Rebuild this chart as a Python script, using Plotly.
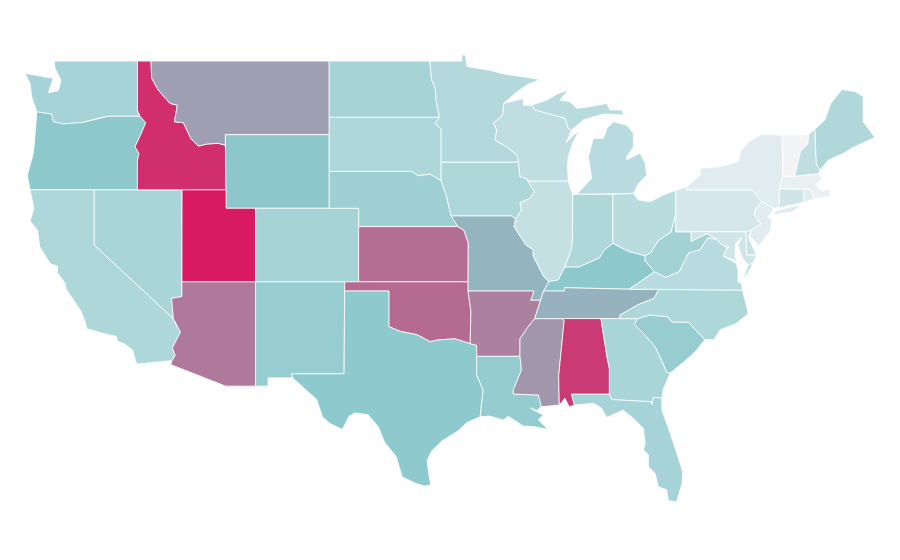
import plotly.graph_objects as go
from plotly.colors import sample_colorscale

# Plotly's built-in state map needs a download that is not available here,
# so the state outlines are estimated (lon, lat) boundaries on plain axes.
states = ["WA","OR","CA","NV","ID","MT","WY","UT","AZ","CO","NM","ND","SD","NE","KS","OK","TX","MN","IA","MO","AR","LA","WI","IL","MS","MI","IN","KY","TN","AL","OH","GA","FL","SC","NC","VA","WV","PA","NY","VT","NH","ME","MA","CT","RI","NJ","DE","MD","DC"]
values = [33.5,45,30,32,94,58,45.5,100,70,34,40,34,30,37,74,75,44,28,30,51,68,41,22,20,61,26,30,45,52,90,25,32,33.5,40,30,26,35,13,8,0,22,29,4,15,8,8,18,15,10]
color_stops = [[0,"#f2f4f6"],[0.45,"#8cc8cc"],[1,"#d81b60"]]

outlines = {
"WA":[(-124.7,48.33),(-123.12,48.09),(-122.78,48.06),(-123.12,47.28),(-122.44,47.39),(-122.26,47.97),(-122.66,48.6),(-122.73,49),(-117.07,49),(-117.07,46.34),(-116.9,46),(-119.05,46),(-119.72,45.89),(-120.74,45.67),(-122.1,45.58),(-122.78,45.7),(-122.89,46.12),(-123.9,46.24),(-124.25,47.06),(-124.36,47.79)],
"OR":[(-123.9,46.24),(-122.89,46.12),(-122.78,45.7),(-122.1,45.58),(-120.74,45.67),(-119.72,45.89),(-119.05,46),(-116.9,46),(-116.5,45.65),(-116.85,45),(-117.23,44.34),(-116.96,43.98),(-117.07,43.6),(-117.07,42),(-124.36,42),(-124.54,42.8),(-124.14,43.98),(-124.05,44.7),(-123.95,45.5)],
"CA":[(-124.36,42),(-120,42),(-120,39),(-114.63,35),(-114.57,34.85),(-114.15,34.27),(-114.7,33.4),(-114.5,33),(-114.72,32.72),(-117.12,32.53),(-117.25,32.85),(-117.4,33.3),(-118,33.65),(-118.4,33.75),(-118.5,34.03),(-119.2,34.15),(-120.5,34.45),(-120.65,34.9),(-120.9,35.4),(-121.9,36.6),(-122,36.95),(-122.5,37.5),(-122.5,37.85),(-123,38),(-123.7,38.9),(-123.85,39.8),(-124.35,40.3),(-124.1,41)],
"NV":[(-120,42),(-114.04,42),(-114.05,36.2),(-114.75,36.1),(-114.63,35),(-120,39)],
"ID":[(-117.07,49),(-116.15,49),(-116.1,48.06),(-115.65,47.42),(-114.86,46.7),(-114.36,46.6),(-114.56,45.7),(-113.95,45.65),(-113.45,44.8),(-112.93,44.38),(-112.37,44.49),(-111.58,44.53),(-111.1,44.43),(-111.05,42),(-117.07,42),(-117.07,43.6),(-116.96,43.98),(-117.23,44.34),(-116.85,45),(-116.5,45.65),(-116.9,46),(-117.07,46.34)],
"MT":[(-116.15,49),(-104.05,49),(-104.05,45),(-111.1,45),(-111.1,44.43),(-111.58,44.53),(-112.37,44.49),(-112.93,44.38),(-113.45,44.8),(-113.95,45.65),(-114.56,45.7),(-114.36,46.6),(-114.86,46.7),(-115.65,47.42),(-116.1,48.06)],
"WY":[(-111.1,45),(-104.05,45),(-104.05,41),(-111.05,41)],
"UT":[(-114.04,42),(-111.05,42),(-111.05,41),(-109.05,41),(-109.05,37),(-114.05,37)],
"AZ":[(-114.05,37),(-109.05,37),(-109.05,31.33),(-111.07,31.33),(-114.81,32.5),(-114.72,32.72),(-114.5,33),(-114.7,33.4),(-114.15,34.27),(-114.57,34.85),(-114.63,35),(-114.75,36.1),(-114.05,36.2)],
"CO":[(-109.05,41),(-102.05,41),(-102.05,37),(-109.05,37)],
"NM":[(-109.05,37),(-103,37),(-103.04,32),(-106.62,32),(-106.53,31.78),(-108.2,31.78),(-108.2,31.33),(-109.05,31.33)],
"ND":[(-104.05,49),(-97.23,49),(-97.1,48),(-96.85,47.5),(-96.8,46.9),(-96.57,45.94),(-104.05,45.94)],
"SD":[(-104.05,45.94),(-96.57,45.94),(-96.85,45.6),(-96.45,45.3),(-96.45,42.49),(-97.2,42.85),(-98,42.77),(-98.5,43),(-104.05,43)],
"NE":[(-104.05,43),(-98.5,43),(-98,42.77),(-97.2,42.85),(-96.45,42.49),(-96.1,41.7),(-95.9,41),(-95.77,40.6),(-95.31,40),(-102.05,40),(-102.05,41),(-104.05,41)],
"KS":[(-102.05,40),(-95.31,40),(-94.9,39.8),(-94.61,39.11),(-94.62,37),(-102.05,37)],
"OK":[(-103,37),(-94.62,37),(-94.62,36.5),(-94.43,35.4),(-94.48,33.64),(-95.5,33.9),(-96.6,33.85),(-97.2,33.75),(-98.1,34.13),(-99.2,34.3),(-100,34.56),(-100,36.5),(-103,36.5)],
"TX":[(-103,36.5),(-100,36.5),(-100,34.56),(-99.2,34.3),(-98.1,34.13),(-97.2,33.75),(-96.6,33.85),(-95.5,33.9),(-94.48,33.64),(-94.04,33.55),(-94.04,31.93),(-93.6,31.12),(-93.7,30.4),(-93.8,29.67),(-94.7,29.35),(-95.3,28.9),(-96.4,28.35),(-97.1,27.8),(-97.4,27.3),(-97.3,26.6),(-97.15,25.96),(-97.6,25.9),(-98.2,26.05),(-99.1,26.4),(-99.5,27.5),(-100.3,28.3),(-100.7,29.1),(-101.4,29.77),(-102.3,29.88),(-102.7,29.7),(-103.15,28.98),(-104,29.3),(-104.5,29.65),(-104.9,30.6),(-106.53,31.78),(-106.62,32),(-103.04,32)],
"MN":[(-97.23,49),(-95.05,49),(-95.05,49.33),(-94.8,49.33),(-94.7,48.7),(-93.13,48.5),(-92.36,48.33),(-91.77,48.24),(-90.9,48.15),(-89.74,48),(-90.65,47.7),(-91.3,47.33),(-92.2,46.7),(-92.27,46.07),(-92.9,45.62),(-92.68,45.25),(-92.79,44.7),(-92,44.34),(-91.3,43.89),(-91.2,43.5),(-96.45,43.5),(-96.45,45.3),(-96.85,45.6),(-96.57,45.94),(-96.8,46.9),(-96.85,47.5),(-97.1,48)],
"IA":[(-96.45,43.5),(-91.2,43.5),(-91.1,42.71),(-90.65,42.62),(-90.55,42.47),(-90.12,41.9),(-90.4,41.54),(-91.1,41.3),(-91,40.9),(-91.4,40.4),(-91.66,40.58),(-95.77,40.58),(-95.9,41),(-96.1,41.7),(-96.45,42.49)],
"MO":[(-95.77,40.58),(-91.66,40.58),(-91.4,40.4),(-91.5,40),(-90.7,39),(-90.2,38.75),(-90.2,38.4),(-89.5,37.3),(-89.15,37),(-89.5,36.5),(-89.7,36),(-90.37,36),(-90.15,36.5),(-94.62,36.5),(-94.62,37),(-94.61,39.11),(-94.9,39.8),(-95.31,40)],
"AR":[(-94.62,36.5),(-90.15,36.5),(-90.37,36),(-89.7,36),(-90.1,35),(-90.6,34.5),(-91.1,33.9),(-91.1,32.95),(-94.04,32.95),(-94.04,33.55),(-94.48,33.64),(-94.43,35.4)],
"LA":[(-94.04,32.95),(-91.1,32.95),(-91,32.2),(-91.55,31.12),(-91.55,30.9),(-89.85,30.85),(-89.65,30.21),(-89.96,30.0),(-90.4,30.15),(-90.1,30.0),(-89.5,29.76),(-89.85,29.5),(-89.2,28.98),(-90.19,29.13),(-90.87,29.16),(-91.9,29.7),(-92.23,29.49),(-93.13,29.7),(-93.8,29.67),(-93.7,30.4),(-93.6,31.12),(-94.04,31.93)],
"WI":[(-92.2,46.7),(-90.87,46.97),(-90.87,46.6),(-90.3,46.6),(-90.08,46.34),(-88.83,46.07),(-88.03,45.89),(-87.82,45.34),(-87.6,45.25),(-87.97,44.56),(-87.5,44.95),(-87.1,45.2),(-87.52,44.53),(-87.82,43.8),(-87.88,43.26),(-87.82,42.47),(-90.55,42.47),(-90.65,42.62),(-91.1,42.71),(-91.2,43.5),(-91.3,43.89),(-92,44.34),(-92.79,44.7),(-92.68,45.25),(-92.9,45.62),(-92.27,46.07)],
"IL":[(-90.55,42.47),(-87.82,42.47),(-87.52,41.72),(-87.53,39.35),(-87.6,38.8),(-88.05,37.8),(-88.5,37.1),(-89.15,37),(-89.5,37.3),(-90.2,38.4),(-90.2,38.75),(-90.7,39),(-91.5,40),(-91.4,40.4),(-91,40.9),(-91.1,41.3),(-90.4,41.54),(-90.12,41.9)],
"MS":[(-90.1,35),(-88.2,35),(-88.1,34.9),(-88.47,31.9),(-88.43,30.3),(-89.65,30.21),(-89.85,30.85),(-91.55,30.9),(-91.55,31.12),(-91,32.2),(-91.1,32.95),(-91.1,33.9),(-90.6,34.5)],
"MI":[(-87.25,41.76),(-84.8,41.76),(-83.4,41.8),(-83.06,42.35),(-82.5,42.8),(-82.6,43.44),(-82.95,44),(-83.85,43.62),(-83.85,43.8),(-83.4,44.34),(-83.4,45.07),(-83.85,45.52),(-84.76,45.7),(-85.2,45.34),(-85.44,44.8),(-86.12,44.8),(-86.46,43.8),(-86.23,42.62),None,
      (-90.3,46.6),(-89.28,46.88),(-88.5,47.24),(-87.82,47.42),(-88.38,46.88),(-87.7,46.79),(-87.25,46.43),(-86.35,46.52),(-85.2,46.7),(-84.98,46.34),(-84.2,46.34),(-84.03,46.07),(-85.44,46.12),(-86.35,45.89),(-86.8,45.8),(-87.6,45.25),(-87.82,45.34),(-88.03,45.89),(-88.83,46.07),(-90.08,46.34)],
"IN":[(-87.52,41.72),(-87.25,41.76),(-84.8,41.76),(-84.8,39.1),(-85.4,38.7),(-85.7,38.3),(-86.3,38.1),(-87.1,37.8),(-88.05,37.8),(-87.6,38.8),(-87.53,39.35)],
"KY":[(-89.5,36.5),(-89.15,37),(-88.5,37.1),(-88.05,37.8),(-87.1,37.8),(-86.3,38.1),(-85.7,38.3),(-85.4,38.7),(-84.8,39.1),(-84.2,38.85),(-83.7,38.65),(-82.6,38.42),(-82.6,38.15),(-81.97,37.54),(-83.68,36.6),(-88.07,36.68),(-88.07,36.5)],
"TN":[(-90.1,35),(-89.7,36),(-89.5,36.5),(-88.07,36.5),(-88.07,36.68),(-83.68,36.6),(-81.68,36.59),(-82,36.1),(-83.1,35.75),(-84.3,35.2),(-84.32,35)],
"AL":[(-88.2,35),(-85.6,35),(-85.18,32.87),(-85.03,32.3),(-85.03,30.89),(-87.6,30.89),(-87.4,30.3),(-87.75,30.21),(-88.05,30.67),(-88.43,30.3),(-88.47,31.9),(-88.1,34.9)],
"OH":[(-84.8,41.76),(-83.4,41.8),(-83.06,41.45),(-82.27,41.35),(-81.37,41.72),(-80.52,41.98),(-80.52,40.64),(-80.85,39.7),(-81.7,39.25),(-82.2,38.6),(-82.6,38.42),(-83.7,38.65),(-84.2,38.85),(-84.8,39.1)],
"GA":[(-85.6,35),(-83.1,35),(-83.35,34.7),(-82.6,34.1),(-81.9,33.45),(-81.4,32.6),(-81.15,32.1),(-80.9,32.05),(-81.4,31.1),(-81.47,30.67),(-82.05,30.72),(-82.15,30.3),(-82.15,30.48),(-84.87,30.6),(-85.03,30.89),(-85.03,32.3),(-85.18,32.87)],
"FL":[(-87.6,30.89),(-85.03,30.89),(-84.87,30.6),(-82.15,30.48),(-82.15,30.3),(-82.05,30.72),(-81.47,30.67),(-81.47,30.03),(-80.9,28.77),(-80.46,27.68),(-80.05,26.68),(-80.1,26.05),(-80.46,25.05),(-81.03,25.1),(-81.14,25.7),(-81.7,25.86),(-81.93,26.6),(-82.38,26.95),(-82.38,27.6),(-82.72,27.86),(-82.6,28.22),(-82.72,29.04),(-83.4,29.58),(-84.1,30.03),(-85.2,29.63),(-85.55,30.13),(-86.1,30.4),(-87.4,30.3)],
"SC":[(-83.1,35),(-82.3,35.2),(-81.05,35.1),(-80.8,34.82),(-79.67,34.8),(-78.55,33.86),(-79.2,33.2),(-79.9,32.7),(-80.9,32.05),(-81.15,32.1),(-81.4,32.6),(-81.9,33.45),(-82.6,34.1),(-83.35,34.7)],
"NC":[(-84.32,35),(-84.3,35.2),(-83.1,35.75),(-82,36.1),(-81.68,36.59),(-76,36.55),(-75.75,35.8),(-75.6,35.25),(-76.5,34.7),(-77.5,34.4),(-77.95,33.85),(-78.55,33.86),(-79.67,34.8),(-80.8,34.82),(-81.05,35.1),(-82.3,35.2),(-83.1,35)],
"VA":[(-83.68,36.6),(-81.97,37.54),(-81.2,37.25),(-80.3,37.55),(-79.65,38.58),(-78.87,38.76),(-78.35,39.4),(-77.75,39.32),(-77.5,39.1),(-77.05,38.85),(-77.3,38.4),(-76.4,38),(-76.3,37.6),(-76.3,37),(-76.05,36.9),(-76,36.55),(-81.68,36.59),None,
      (-75.95,37.15),(-75.6,37.9),(-75.25,38.03),(-75.7,37.4)],
"WV":[(-82.6,38.42),(-82.2,38.6),(-81.7,39.25),(-80.85,39.7),(-80.52,40.64),(-80.52,39.72),(-79.48,39.72),(-79.48,39.2),(-78.4,39.62),(-77.75,39.32),(-78.35,39.4),(-78.87,38.76),(-79.65,38.58),(-80.3,37.55),(-81.2,37.25),(-81.97,37.54),(-82.6,38.15)],
"PA":[(-80.52,41.98),(-79.78,42.17),(-79.76,42),(-75.35,42),(-74.7,41.36),(-75.1,40.95),(-75.2,40.65),(-74.73,40.15),(-75.4,39.8),(-75.78,39.72),(-80.52,39.72)],
"NY":[(-79.78,42.17),(-79.76,42),(-75.35,42),(-74.7,41.36),(-73.9,41),(-73.65,41),(-73.5,41.2),(-73.5,42.05),(-73.27,42.74),(-73.25,43.6),(-73.3,44.98),(-74.7,45),(-75.6,44.6),(-76.15,44.07),(-76.27,43.53),(-77.5,43.26),(-78.87,43.17),(-78.87,42.8),None,
      (-73.9,40.63),(-73.7,40.88),(-72.3,41.15),(-72,41.17),(-72.6,40.8)],
"VT":[(-73.3,44.98),(-71.5,45.01),(-71.55,44.5),(-72.05,44.1),(-72.45,42.73),(-73.27,42.74),(-73.25,43.6)],
"NH":[(-71.5,45.01),(-71.08,45.3),(-70.98,43.4),(-70.72,43.07),(-70.82,42.87),(-72.45,42.73),(-72.05,44.1),(-71.55,44.5)],
"ME":[(-71.08,45.3),(-70.4,45.8),(-70,46.7),(-69.25,47.45),(-68.35,47.35),(-67.8,47.07),(-67.8,45.7),(-67.45,45.3),(-67,44.85),(-68.5,44.3),(-69.1,44),(-70.2,43.6),(-70.72,43.07),(-70.98,43.4)],
"MA":[(-73.5,42.05),(-73.27,42.74),(-72.45,42.73),(-70.82,42.87),(-70.6,42.65),(-71,42.3),(-70.65,41.95),(-70.05,42.05),(-70.05,41.66),(-70.65,41.55),(-71.12,41.5),(-71.38,42.02),(-71.8,42.02)],
"CT":[(-73.5,42.05),(-71.8,42.02),(-71.85,41.32),(-73.65,41),(-73.5,41.2)],
"RI":[(-71.8,42.02),(-71.38,42.02),(-71.12,41.5),(-71.85,41.32)],
"NJ":[(-74.7,41.36),(-73.9,41),(-74.25,40.5),(-74,40.4),(-74.1,39.75),(-74.9,38.95),(-75.5,39.5),(-75.4,39.8),(-74.73,40.15),(-75.2,40.65),(-75.1,40.95)],
"DE":[(-75.78,39.72),(-75.4,39.8),(-75.6,39.45),(-75.05,38.45),(-75.7,38.46)],
"MD":[(-79.48,39.72),(-75.78,39.72),(-75.7,38.46),(-75.05,38.45),(-75.25,38.03),(-75.6,37.9),(-76,38.3),(-76.3,39),(-76.05,39.4),(-76.45,39.1),(-76.5,38.4),(-76.35,38.1),(-77.3,38.4),(-77.05,38.85),(-77.5,39.1),(-77.75,39.32),(-78.4,39.62),(-79.48,39.2)],
"DC":[(-77.12,38.93),(-77.04,39),(-76.91,38.89),(-77.04,38.79)],
}

fig = go.Figure()
for state, value in zip(states, values):
    color = sample_colorscale(color_stops, value / 100)[0]
    xs, ys, first = [], [], None
    for p in outlines[state] + [None]:
        if p is None:
            xs += [first[0], None]; ys += [first[1], None]; first = None
        else:
            first = first or p
            xs.append(p[0]); ys.append(p[1])
    fig.add_trace(go.Scatter(x=xs, y=ys, mode="lines", fill="toself", fillcolor=color,
                             line=dict(color="white", width=0.8), name=state,
                             text=f"{state}: {value}", hoverinfo="text", showlegend=False))

fig.update_layout(
    width=900, height=560, margin=dict(l=0, r=0, t=0, b=0),
    paper_bgcolor="white", plot_bgcolor="white",
    xaxis=dict(range=[-125.857, -64.757], visible=False, fixedrange=True),
    yaxis=dict(range=[21.445, 51.885], visible=False, fixedrange=True),
)
fig.write_html("out.html")
